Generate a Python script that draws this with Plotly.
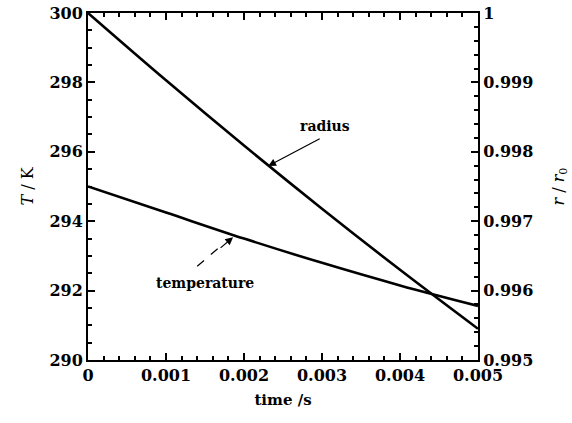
import plotly.graph_objects as go

# Data
time_s = [0.0, 0.001, 0.002, 0.003, 0.004, 0.005]
temperature_K = [295.0, 294.25, 293.5, 292.8, 292.15, 291.56]
radius_ratio = [1.0, 0.99903, 0.99809, 0.99718, 0.9963, 0.99545]

x_ticks = [0, 0.001, 0.002, 0.003, 0.004, 0.005]
t_ticks = [290, 292, 294, 296, 298, 300]
r_ticks = [0.995, 0.996, 0.997, 0.998, 0.999, 1.0]

SERIF = "DejaVu Serif"
tickfont = dict(family=SERIF, size=16, color="black", weight="bold")

fig = go.Figure()
fig.add_trace(go.Scatter(x=time_s, y=temperature_K, mode="lines",
                         line=dict(color="black", width=2.6, shape="spline", smoothing=1.0),
                         yaxis="y", showlegend=False))
fig.add_trace(go.Scatter(x=time_s, y=radius_ratio, mode="lines",
                         line=dict(color="black", width=2.6, shape="spline", smoothing=1.0),
                         yaxis="y2", showlegend=False))

axis_common = dict(showgrid=False, zeroline=False, showline=True, linecolor="black",
                   linewidth=2, ticks="inside", ticklen=7, tickwidth=2, tickcolor="#000000",
                   tickfont=tickfont, automargin=False, tickmode="linear", layer="above traces")
minor_common = dict(ticks="inside", ticklen=4, tickcolor="#000000", tickwidth=1.5, showgrid=False)

fig.update_layout(
    width=572, height=423,
    margin=dict(l=88, r=94, t=13, b=63),
    paper_bgcolor="white", plot_bgcolor="rgba(0,0,0,0)",
    xaxis=dict(range=[x_ticks[0], x_ticks[-1]], tick0=x_ticks[0], dtick=x_ticks[1] - x_ticks[0],
               mirror="ticks",
               minor=dict(dtick=0.0002, **minor_common),
               title=dict(text="time /s", font=dict(family=SERIF, size=15, color="black", weight="bold"),
                          standoff=10),
               **axis_common),
    yaxis=dict(range=[t_ticks[0], t_ticks[-1]], tick0=t_ticks[0], dtick=t_ticks[1] - t_ticks[0],
               minor=dict(dtick=0.5, **minor_common),
               title=dict(text="<i>T</i> / K", font=dict(family=SERIF, size=16, color="black"),
                          standoff=12),
               **axis_common),
    yaxis2=dict(range=[r_ticks[0], r_ticks[-1]], tick0=r_ticks[0], dtick=0.001,
                overlaying="y", side="right",
                minor=dict(dtick=0.0002, **minor_common),
                title=dict(text="<i>r</i> / <i>r</i><sub>0</sub>",
                           font=dict(family=SERIF, size=16, color="black"), standoff=20),
                **axis_common),
)

annot_font = dict(family=SERIF, size=14, color="black", weight="bold")

# radius label + arrow
fig.add_annotation(x=0.00304, y=296.74, xref="x", yref="y", text="radius",
                   showarrow=False, font=annot_font)
fig.add_annotation(x=0.00231, y=295.59, xref="x", yref="y", text=" ",
                   showarrow=True, ax=53, ay=-28, arrowhead=2, arrowsize=1.3,
                   arrowwidth=1.2, arrowcolor="black", font=dict(size=1))

# temperature label + dashed arrow
fig.add_annotation(x=0.0015, y=292.22, xref="x", yref="y", text="temperature",
                   showarrow=False, font=annot_font)
fig.add_shape(type="line", xref="x", yref="y",
              x0=0.00140, y0=292.70, x1=0.00170, y1=293.28,
              line=dict(color="black", width=1.2, dash="dash"))
fig.add_annotation(x=0.00186, y=293.54, xref="x", yref="y", text=" ",
                   showarrow=True, ax=-14, ay=12, arrowhead=2, arrowsize=1.3,
                   arrowwidth=1.2, arrowcolor="black", font=dict(size=1))

fig.write_html("out.html")
